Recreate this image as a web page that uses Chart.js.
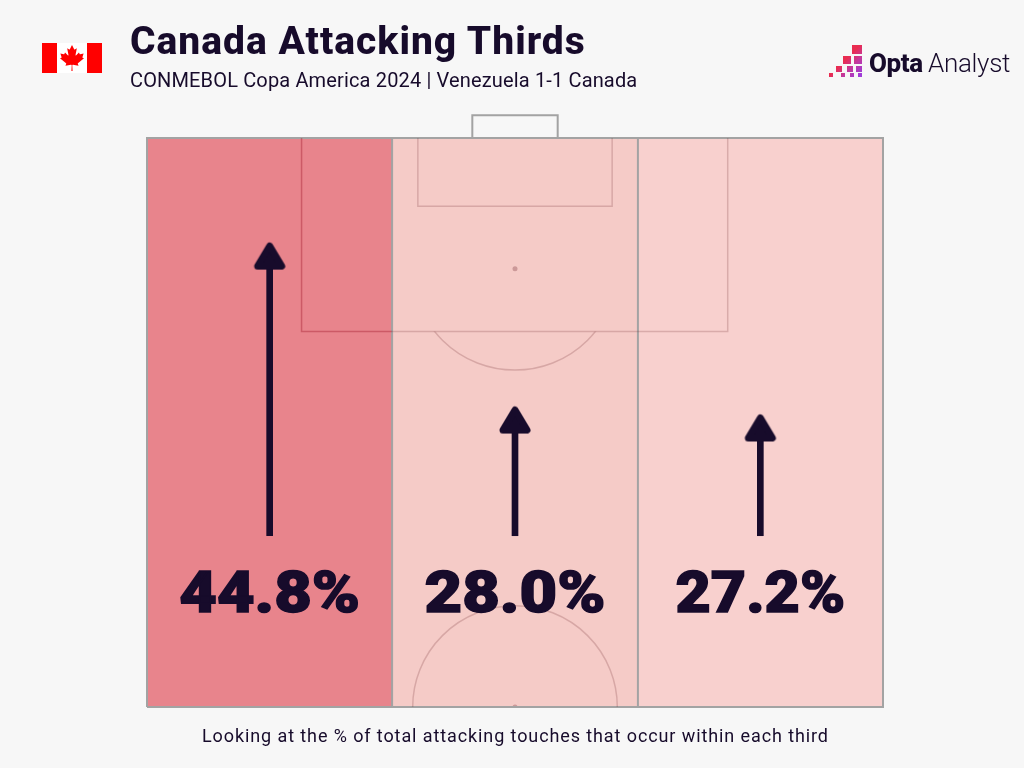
<!DOCTYPE html>
<html>
<head>
<meta charset="utf-8">
<title>Canada Attacking Thirds</title>
<script src="https://cdn.jsdelivr.net/npm/chart.js@4"></script>
<style>
  html, body { margin: 0; padding: 0; background: #f7f7f7; }
  #wrap { position: relative; width: 1024px; height: 768px; overflow: hidden; color: #170b2b; font-family: Roboto, sans-serif; }
  #myChart { position: absolute; left: 0; top: 0; }
  .txt { position: absolute; white-space: nowrap; margin: 0; }
  #title { left: 130px; top: 18px; font-size: 39px; line-height: 46px; font-weight: 800; letter-spacing: 1px; }
  #subtitle { left: 130px; top: 67px; font-size: 20px; line-height: 26px; font-weight: 400; letter-spacing: 0.15px; }
  #footer { left: 202px; top: 724px; font-size: 18px; line-height: 24px; letter-spacing: 0.9px; }
  #flag { position: absolute; left: 42px; top: 43px; }
  #logo { position: absolute; left: 825px; top: 40px; }
  #optaWord { left: 869px; top: 45px; font-size: 26px; line-height: 36px; font-weight: 800; letter-spacing: -0.4px; }
  #analystWord { left: 928px; top: 45px; font-size: 26px; line-height: 36px; font-weight: 300; letter-spacing: -0.3px; }
</style>
</head>
<body>
<div id="wrap">
  <canvas id="myChart" width="1024" height="768"></canvas>

  <svg id="flag" width="60" height="30" viewBox="0 0 60 30">
    <rect width="60" height="30" fill="#fff"/>
    <rect width="15" height="30" fill="#f00"/>
    <rect x="45" width="15" height="30" fill="#f00"/>
    <svg x="15" y="2" width="30" height="26" viewBox="-2015 -2000 4030 4030">
      <path fill="#f00" d="m-90 2030 45-863a95 95 0 0 0-111-98l-859 151 116-320a65 65 0 0 0-20-73l-941-762 212-99a65 65 0 0 0 34-79l-186-572 542 115a65 65 0 0 0 73-38l105-247 423 454a65 65 0 0 0 111-57l-204-1052 327 189a65 65 0 0 0 91-27l332-652 332 652a65 65 0 0 0 91 27l327-189-204 1052a65 65 0 0 0 111 57l423-454 105 247a65 65 0 0 0 73 38l542-115-186 572a65 65 0 0 0 34 79l212 99-941 762a65 65 0 0 0-20 73l116 320-859-151a95 95 0 0 0-111 98l45 863z"/>
    </svg>
  </svg>

  <h1 class="txt" id="title">Canada Attacking Thirds</h1>
  <p class="txt" id="subtitle">CONMEBOL Copa America 2024 | Venezuela 1-1 Canada</p>

  <!-- logo squares -->
  <svg id="logo" width="40" height="40" viewBox="825 40 40 40">
    <defs>
      <linearGradient id="logoFade" gradientUnits="userSpaceOnUse" x1="840" y1="65" x2="855" y2="80">
        <stop offset="0" stop-color="#e92c50"/>
        <stop offset="0.45" stop-color="#c4389c"/>
        <stop offset="1" stop-color="#a03cd8"/>
      </linearGradient>
    </defs>
    <g fill="url(#logoFade)">
      <rect x="852" y="45" width="10" height="9"/>
      <rect x="843" y="56" width="8" height="8"/>
      <rect x="854" y="56" width="8" height="8"/>
      <rect x="836" y="66" width="6" height="6"/>
      <rect x="847" y="66" width="6" height="6"/>
      <rect x="856" y="66" width="6" height="6"/>
      <rect x="829" y="73" width="4" height="4"/>
      <rect x="841" y="73" width="4" height="4"/>
      <rect x="850" y="73" width="4" height="4"/>
      <rect x="858" y="73" width="4" height="4"/>
    </g>
  </svg>
  <span class="txt" id="optaWord">Opta</span>
  <span class="txt" id="analystWord">Analyst</span>

  <p class="txt" id="footer">Looking at the % of total attacking touches that occur within each third</p>
</div>

<script>
// Thirds, left to right
const thirds = ['Left', 'Centre', 'Right'];
const touchShare = [44.8, 28.0, 27.2];
const pitchTop = [100, 100, 100];

// Arrows, in pitch length units (Opta 0-100, attacking half only)
const arrowStart = [65.05, 65.05, 65.05];
const arrowTip = [90.8, 76.4, 75.7];
const labelHeight = [58.35, 58.35, 58.35];

// Pitch markings, Opta coordinates
const outlineX = [0, 100, 100, 0, 0];
const outlineY = [50, 50, 100, 100, 50];
const dividerLeftX = [33.3, 33.3];
const dividerRightX = [66.7, 66.7];
const dividerY = [50, 100];
const boxInLeftX = [21, 21, 33.3];
const boxInLeftY = [100, 83, 83];
const boxRestX = [33.3, 78.9, 78.9];
const boxRestY = [83, 83, 100];
const sixYardX = [36.8, 36.8, 63.2, 63.2];
const sixYardY = [100, 94, 94, 100];
const goalX = [44.2, 44.2, 55.8, 55.8];
const goalY = [100, 102, 102, 100];
const spotsX = [50, 50];
const spotsY = [88.5, 50];

const pitchGrey = '#a3a3a3';
const markingColor = 'rgba(110, 40, 45, 0.22)';
const markingOnRed = 'rgba(170, 40, 55, 0.45)';
const inkColor = '#170b2b';
// 27.2% runs wider than the original in Roboto, so it gets less stretch
const labelStretch = [1.12, 1.12, 1.05];

const zip = (xs, ys) => xs.map((x, i) => ({ x: x, y: ys[i] }));

function lineSet(xs, ys, color, width) {
    return {
        type: 'scatter',
        xAxisID: 'x2',
        data: zip(xs, ys),
        showLine: true,
        borderColor: color,
        borderWidth: width,
        pointRadius: 0,
        clip: false,
        order: 2
    };
}

// Arrow head with rounded corners; the canvas centre sits on the arrow tip
function makeArrowHead() {
    const c = document.createElement('canvas');
    c.width = 36;
    c.height = 60;
    const g = c.getContext('2d');
    g.fillStyle = inkColor;
    g.strokeStyle = inkColor;
    g.lineWidth = 7;
    g.lineJoin = 'round';
    g.beginPath();
    g.moveTo(18, 33.5);
    g.lineTo(30, 53.5);
    g.lineTo(6, 53.5);
    g.closePath();
    g.fill();
    g.stroke();
    return c;
}

// Circle arcs and the big percentages
const pitchText = {
    id: 'pitchText',
    afterDatasetsDraw(chart) {
        const ctx = chart.ctx;
        const x = chart.scales.x;
        const x2 = chart.scales.x2;
        const y = chart.scales.y;
        const rx = x2.getPixelForValue(63.9) - x2.getPixelForValue(50);
        const ry = y.getPixelForValue(50) - y.getPixelForValue(58.9);

        ctx.save();
        ctx.strokeStyle = markingColor;
        ctx.lineWidth = 1.5;
        // D on the edge of the box
        ctx.save();
        ctx.beginPath();
        ctx.rect(chart.chartArea.left, y.getPixelForValue(83), chart.chartArea.width, 100);
        ctx.clip();
        ctx.beginPath();
        ctx.ellipse(x2.getPixelForValue(50), y.getPixelForValue(88.5), rx, ry, 0, 0, Math.PI * 2);
        ctx.stroke();
        ctx.restore();
        // centre circle, top half only
        ctx.beginPath();
        ctx.ellipse(x2.getPixelForValue(50), y.getPixelForValue(50), rx, ry, 0, Math.PI, Math.PI * 2);
        ctx.stroke();

        // labels, stretched a little to get the wide heavy look
        ctx.fillStyle = inkColor;
        ctx.strokeStyle = inkColor;
        ctx.lineWidth = 1.5;
        ctx.lineJoin = 'miter';
        ctx.textAlign = 'center';
        ctx.textBaseline = 'alphabetic';
        ctx.font = '900 58px Roboto';
        touchShare.forEach((v, i) => {
            const label = v.toFixed(1) + '%';
            ctx.save();
            ctx.translate(x.getPixelForValue(thirds[i]), y.getPixelForValue(labelHeight[i]));
            ctx.scale(labelStretch[i], 1);
            ctx.fillText(label, 0, 0);
            ctx.strokeText(label, 0, 0);
            ctx.restore();
        });
        ctx.restore();
    }
};

new Chart(document.getElementById('myChart'), {
    data: {
        labels: thirds,
        datasets: [
            {
                type: 'bar',
                data: pitchTop,
                base: 50,
                grouped: false,
                barPercentage: 1,
                categoryPercentage: 1,
                backgroundColor: ['#e8848c', '#f5cbc7', '#f8d0ce'],
                order: 5
            },
            lineSet(boxInLeftX, boxInLeftY, markingOnRed, 1.5),
            lineSet(boxRestX, boxRestY, markingColor, 1.5),
            lineSet(sixYardX, sixYardY, markingColor, 1.5),
            lineSet(dividerLeftX, dividerY, pitchGrey, 2),
            lineSet(dividerRightX, dividerY, pitchGrey, 2),
            lineSet(outlineX, outlineY, pitchGrey, 2),
            lineSet(goalX, goalY, pitchGrey, 2),
            {
                type: 'scatter',
                xAxisID: 'x2',
                data: zip(spotsX, spotsY),
                pointRadius: 2.5,
                backgroundColor: 'rgba(110, 40, 45, 0.3)',
                borderWidth: 0,
                order: 2
            },
            {
                type: 'bar',
                data: arrowTip.map((t, i) => [arrowStart[i], t - 2]),
                grouped: false,
                barThickness: 6,
                backgroundColor: inkColor,
                order: 1
            },
            {
                type: 'line',
                data: arrowTip,
                showLine: false,
                pointStyle: makeArrowHead(),
                order: 0
            }
        ]
    },
    options: {
        responsive: false,
        animation: false,
        layout: { padding: { left: 147, right: 141, top: 114, bottom: 61 } },
        plugins: {
            legend: { display: false },
            tooltip: { enabled: false }
        },
        scales: {
            x: { display: false, offset: true },
            x2: { type: 'linear', display: false, min: 0, max: 100 },
            y: { display: false, min: 50, max: 102.1 }
        }
    },
    plugins: [pitchText]
});
</script>
</body>
</html>
